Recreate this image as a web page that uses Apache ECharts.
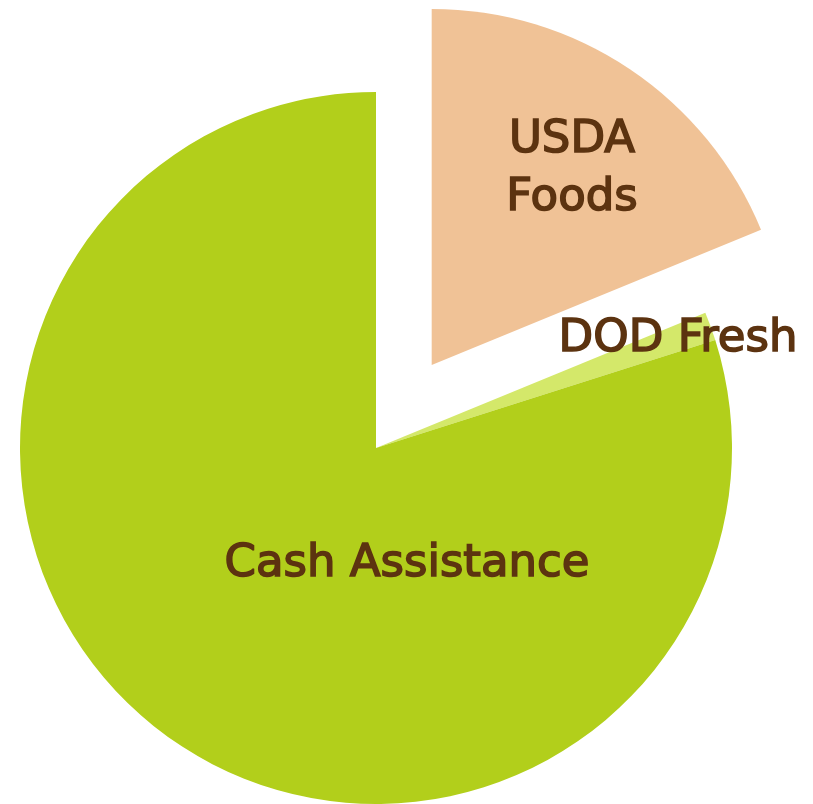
<!DOCTYPE html>
<html><head><meta charset="utf-8">
<script src="https://cdn.jsdelivr.net/npm/echarts@6/dist/echarts.min.js"></script>
<style>html,body{margin:0;padding:0;background:#fff}#c{width:813px;height:804px}</style>
</head><body><div id="c"></div>
<script>
const categories = ['USDA\nFoods', 'DOD Fresh', 'Cash Assistance'];
const values = [18.8, 1.3, 79.9];
const colors = ['#f0c296', '#d4e86a', '#b2cf1b'];
const labelPositions = [[572, 169], [678, 339], [407, 564]];
const explodedIndex = 0;

const pieCenter = [376, 448];
const explodeDist = 100;
const total = values.reduce((a, b) => a + b, 0);
let before = 0;
for (let i = 0; i < explodedIndex; i++) before += values[i];
const midAngle = (before + values[explodedIndex] / 2) / total * 2 * Math.PI;
const explodedCenter = [pieCenter[0] + explodeDist * Math.sin(midAngle),
                        pieCenter[1] - explodeDist * Math.cos(midAngle)];

const labelStyle = {
  show: true,
  position: 'outside',
  color: '#5c3310',
  fontFamily: 'DejaVu Sans',
  fontWeight: 'normal',
  fontSize: 45,
  lineHeight: 58,
  align: 'center',
  textBorderColor: '#5c3310',
  textBorderWidth: 1.6
};
const layoutFn = function (p) {
  const pos = labelPositions[p.dataIndex];
  return {x: pos[0], y: pos[1], align: 'center', verticalAlign: 'middle', hideOverlap: false};
};
function makeSeries(center, showExploded) {
  return {
    type: 'pie',
    center: center,
    radius: 356,
    startAngle: 90,
    clockwise: true,
    silent: true,
    avoidLabelOverlap: false,
    minShowLabelAngle: 0,
    label: labelStyle,
    labelLine: {show: false},
    labelLayout: layoutFn,
    emphasis: {disabled: true},
    data: categories.map((c, i) => {
      const visible = (i === explodedIndex) === showExploded;
      return {
        name: c, value: values[i],
        itemStyle: {color: colors[i], opacity: visible ? 1 : 0},
        label: {show: visible}
      };
    })
  };
}

const chart = echarts.init(document.getElementById('c'), null, {renderer: 'canvas'});
chart.setOption({
  animation: false,
  series: [makeSeries(pieCenter, false), makeSeries(explodedCenter, true)]
});
</script></body></html>
